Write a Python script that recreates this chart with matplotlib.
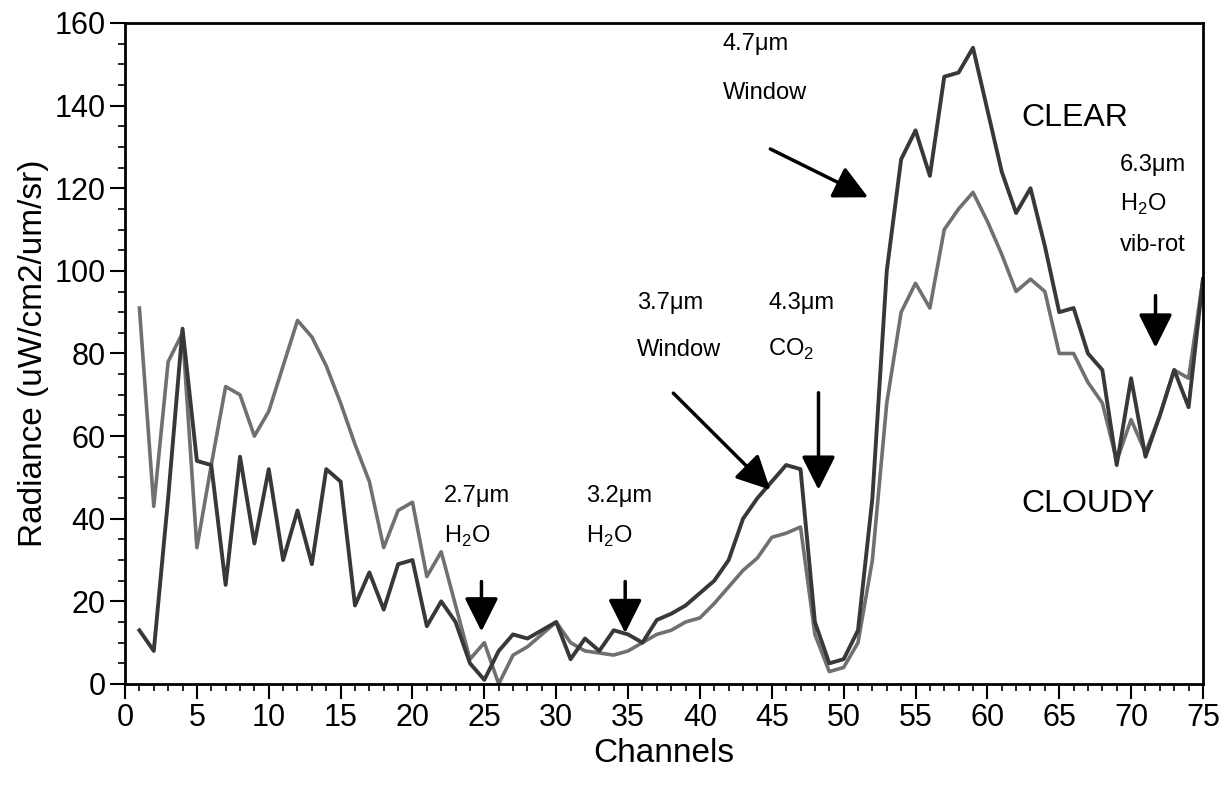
import numpy as np
import matplotlib
matplotlib.use('Agg')
import matplotlib.pyplot as plt
from matplotlib.ticker import MultipleLocator

plt.rcParams['font.family'] = ['Liberation Sans', 'DejaVu Sans']
plt.rcParams['mathtext.fontset'] = 'custom'
plt.rcParams['mathtext.rm'] = 'Liberation Sans'

channels = np.arange(1, 76)

clear = [13, 8, 45, 86, 54, 53, 24, 55, 34, 52,
         30, 42, 29, 52, 49, 19, 27, 18, 29, 30,
         14, 20, 15, 5, 1, 8, 12, 11, 13, 15,
         6, 11, 8, 13, 12, 10, 15.5, 17, 19, 22,
         25, 30, 40, 45, 49, 53, 52, 15, 5, 6,
         13, 45, 100, 127, 134, 123, 147, 148, 154, 139,
         124, 114, 120, 106, 90, 91, 80, 76, 53, 74,
         55, 65, 76, 67, 98]

cloudy = [91, 43, 78, 85, 33, 53, 72, 70, 60, 66,
          77, 88, 84, 77, 68, 58, 49, 33, 42, 44,
          26, 32, 19, 6, 10, 0, 7, 9, 12, 15,
          10, 8, 7.5, 7, 8, 10, 12, 13, 15, 16,
          19.5, 23.5, 27.5, 30.5, 35.5, 36.5, 38, 12, 3, 4,
          10, 30, 68, 90, 97, 91, 110, 115, 119, 112,
          104, 95, 98, 95, 80, 80, 73, 68, 54, 64,
          56, 65, 76, 74, 98]

fig = plt.figure(figsize=(12.27, 7.9), dpi=100)
ax = fig.add_axes([0.1019, 0.1342, 0.8785, 0.8367])

ax.plot(channels, cloudy, color='#707070', lw=2.6)
ax.plot(channels, clear, color='#383838', lw=2.8)

ax.set_xlim(0, 75)
ax.set_ylim(0, 160)
ax.xaxis.set_major_locator(MultipleLocator(5))
ax.xaxis.set_minor_locator(MultipleLocator(1))
ax.yaxis.set_major_locator(MultipleLocator(20))
ax.yaxis.set_minor_locator(MultipleLocator(5))
ax.tick_params(which='major', direction='out', length=11, width=1.5, labelsize=22, pad=3)
ax.tick_params(which='minor', direction='out', length=5, width=1.2)
for s in ax.spines.values():
    s.set_linewidth(2)

ax.set_xlabel('Channels', fontsize=24, labelpad=3)
ax.set_ylabel('Radiance (uW/cm2/um/sr)', fontsize=24, labelpad=4)

tsz = 17
ax.text(22.2, 45.4, '2.7μm', fontsize=tsz, va='center')
ax.text(22.2, 35.8, 'H$_\\mathregular{2}$O', fontsize=tsz, va='center')
ax.text(32.1, 45.4, '3.2μm', fontsize=tsz, va='center')
ax.text(32.1, 35.8, 'H$_\\mathregular{2}$O', fontsize=tsz, va='center')
ax.text(35.6, 92.3, '3.7μm', fontsize=tsz, va='center')
ax.text(35.6, 80.9, 'Window', fontsize=tsz, va='center')
ax.text(44.75, 92.3, '4.3μm', fontsize=tsz, va='center')
ax.text(44.75, 80.9, 'CO$_\\mathregular{2}$', fontsize=tsz, va='center')
ax.text(41.6, 154.8, '4.7μm', fontsize=tsz, va='center')
ax.text(41.6, 143.1, 'Window', fontsize=tsz, va='center')
ax.text(69.2, 125.7, '6.3μm', fontsize=tsz, va='center')
ax.text(69.2, 116.0, 'H$_\\mathregular{2}$O', fontsize=tsz, va='center')
ax.text(69.2, 106.3, 'vib-rot', fontsize=tsz, va='center')
ax.text(62.4, 137.0, 'CLEAR', fontsize=23, va='center')
ax.text(62.4, 43.6, 'CLOUDY', fontsize=23, va='center')

arrows = [((24.8, 24.8), (24.8, 12.7)),
          ((34.8, 24.8), (34.8, 12.3)),
          ((48.25, 70.5), (48.25, 47)),
          ((38.15, 70.4), (44.9, 47)),
          ((44.9, 129.5), (51.7, 117.8)),
          ((71.7, 94), (71.7, 81.4))]
for start, tip in arrows:
    ax.annotate('', xy=tip, xytext=start,
                arrowprops=dict(arrowstyle='-|>,head_length=0.9,head_width=0.45',
                                lw=2.5, color='black', mutation_scale=23,
                                shrinkA=0, shrinkB=0))

fig.savefig('out.png', dpi=100)
